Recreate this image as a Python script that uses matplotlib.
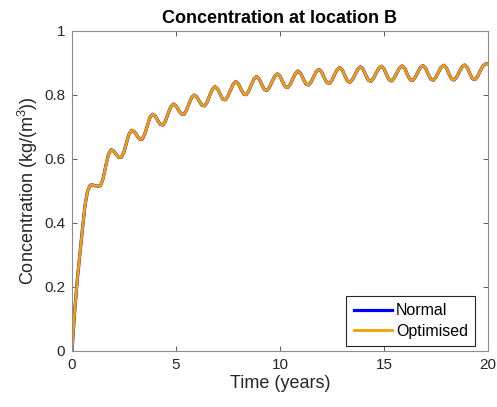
# Concentration at location B - normal vs optimised schedule
import numpy as np
import matplotlib.pyplot as plt

plt.rcParams['font.family'] = ['Liberation Sans', 'DejaVu Sans']
plt.rcParams['mathtext.fontset'] = 'custom'
plt.rcParams['mathtext.rm'] = 'Liberation Sans'
plt.rcParams['mathtext.it'] = 'Liberation Sans'

# ----------------------------
# Data (8 samples per year)
# ----------------------------
time_years = np.arange(0, 20.0001, 0.125)

concentration = [
    0.000, 0.120, 0.220, 0.300, 0.380, 0.455, 0.500, 0.518,
    0.519, 0.516, 0.515, 0.517, 0.540, 0.579, 0.614, 0.629,
    0.625, 0.614, 0.605, 0.605, 0.622, 0.652, 0.679, 0.690,
    0.685, 0.673, 0.662, 0.662, 0.678, 0.705, 0.730, 0.740,
    0.734, 0.720, 0.708, 0.706, 0.720, 0.743, 0.763, 0.772,
    0.766, 0.753, 0.741, 0.739, 0.752, 0.773, 0.792, 0.800,
    0.794, 0.780, 0.768, 0.766, 0.778, 0.799, 0.818, 0.826,
    0.819, 0.802, 0.787, 0.785, 0.797, 0.816, 0.834, 0.842,
    0.835, 0.818, 0.803, 0.801, 0.813, 0.832, 0.850, 0.858,
    0.850, 0.832, 0.817, 0.814, 0.825, 0.843, 0.859, 0.866,
    0.859, 0.841, 0.826, 0.823, 0.834, 0.852, 0.868, 0.875,
    0.867, 0.849, 0.834, 0.831, 0.841, 0.858, 0.874, 0.880,
    0.872, 0.854, 0.839, 0.836, 0.846, 0.864, 0.879, 0.886,
    0.878, 0.859, 0.843, 0.840, 0.850, 0.866, 0.882, 0.888,
    0.880, 0.862, 0.846, 0.843, 0.853, 0.869, 0.884, 0.890,
    0.882, 0.863, 0.847, 0.844, 0.854, 0.870, 0.885, 0.891,
    0.883, 0.864, 0.848, 0.845, 0.855, 0.871, 0.886, 0.892,
    0.884, 0.865, 0.849, 0.846, 0.856, 0.872, 0.887, 0.893,
    0.885, 0.866, 0.850, 0.847, 0.857, 0.873, 0.888, 0.894,
    0.886, 0.867, 0.851, 0.848, 0.858, 0.875, 0.890, 0.897,
    0.898,
]

# the two schedules are practically on top of each other
conc_normal = concentration
conc_optimised = concentration

x_ticks = [0, 5, 10, 15, 20]
y_ticks = [0, 0.2, 0.4, 0.6, 0.8, 1]
y_tick_labels = ['0', '0.2', '0.4', '0.6', '0.8', '1']

# ----------------------------
# Plot
# ----------------------------
fig = plt.figure(figsize=(4.97, 4.07), dpi=100)
ax = fig.add_axes([72 / 497, 1 - 351 / 407, 416 / 497, 320 / 407])

ax.plot(time_years, conc_normal, color='#0000FF', lw=2.3, label='Normal')
ax.plot(time_years, conc_optimised, color='#F0A000', lw=2.0, label='Optimised')

ax.set_xlim(0, 20)
ax.set_ylim(0, 1)
ax.set_xticks(x_ticks)
ax.set_yticks(y_ticks)
ax.set_yticklabels(y_tick_labels)

for sp in ax.spines.values():
    sp.set_color('#8c8c8c')
    sp.set_linewidth(0.8)
ax.tick_params(direction='in', length=3.5, width=0.7, color='#5a5a5a',
               labelsize=11, labelcolor='#262626', top=True, right=True, pad=5)

ax.set_title('Concentration at location B', fontsize=13, fontweight='bold', pad=6)
ax.set_xlabel('Time (years)', fontsize=13, color='#262626', labelpad=2)
ax.set_ylabel('Concentration (kg/(m$^3$))', fontsize=13, color='#262626', labelpad=3)

leg = ax.legend(loc='lower right', bbox_to_anchor=(0.969, 0.016), borderaxespad=0,
                fontsize=11.5, fancybox=False, framealpha=1, edgecolor='#262626',
                handlelength=2.4, handletextpad=0.25, borderpad=0.45, labelspacing=0.35)
leg.get_frame().set_linewidth(0.8)

plt.savefig('out.png', dpi=100)
